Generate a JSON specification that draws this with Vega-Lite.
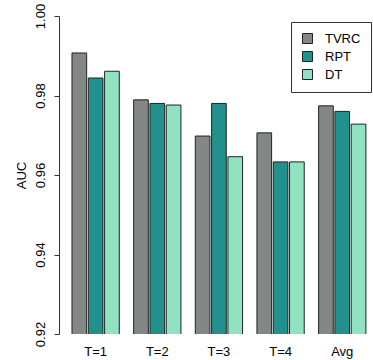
{
  "$schema": "https://vega.github.io/schema/vega-lite/v6.json",
  "autosize": {"type": "none"},
  "padding": {"left": 59, "top": 16, "right": 1, "bottom": 26},
  "width": 313,
  "height": 318,
  "background": "white",
  "config": {
    "font": "Liberation Sans",
    "view": {"stroke": null}
  },
  "data": {
    "values": [
      {"group": "T=1", "method": "TVRC", "auc": 0.9907},
      {"group": "T=1", "method": "RPT", "auc": 0.9844},
      {"group": "T=1", "method": "DT", "auc": 0.9861},
      {"group": "T=2", "method": "TVRC", "auc": 0.9789},
      {"group": "T=2", "method": "RPT", "auc": 0.9780},
      {"group": "T=2", "method": "DT", "auc": 0.9776},
      {"group": "T=3", "method": "TVRC", "auc": 0.9698},
      {"group": "T=3", "method": "RPT", "auc": 0.9780},
      {"group": "T=3", "method": "DT", "auc": 0.9646},
      {"group": "T=4", "method": "TVRC", "auc": 0.9706},
      {"group": "T=4", "method": "RPT", "auc": 0.9633},
      {"group": "T=4", "method": "DT", "auc": 0.9633},
      {"group": "Avg", "method": "TVRC", "auc": 0.9774},
      {"group": "Avg", "method": "RPT", "auc": 0.9760},
      {"group": "Avg", "method": "DT", "auc": 0.9728}
    ]
  },
  "mark": {"type": "bar", "stroke": "#222222", "strokeWidth": 1, "clip": true},
  "encoding": {
    "x": {
      "field": "group",
      "type": "nominal",
      "sort": ["T=1", "T=2", "T=3", "T=4", "Avg"],
      "scale": {"paddingInner": 0.233, "paddingOuter": 0.155, "align": 0.68},
      "axis": {
        "title": null,
        "domain": false,
        "ticks": false,
        "labelAngle": 0,
        "labelFontSize": 13,
        "labelColor": "#000000",
        "labelPadding": 11
      }
    },
    "xOffset": {
      "field": "method",
      "type": "nominal",
      "sort": ["TVRC", "RPT", "DT"],
      "scale": {"paddingInner": 0.1, "paddingOuter": 0}
    },
    "y": {
      "field": "auc",
      "type": "quantitative",
      "scale": {"domain": [0.92, 1.0], "zero": false, "nice": false},
      "axis": {
        "title": "AUC",
        "titleFontSize": 13,
        "titleFontWeight": "normal",
        "titleColor": "#000000",
        "titlePadding": 6,
        "values": [0.92, 0.94, 0.96, 0.98, 1.0],
        "format": ".2f",
        "labelAngle": 270,
        "labelAlign": "center",
        "labelBaseline": "bottom",
        "labelFontSize": 13,
        "labelColor": "#000000",
        "labelPadding": 7,
        "tickSize": 5,
        "tickColor": "#333333",
        "domainColor": "#333333",
        "grid": false
      }
    },
    "color": {
      "field": "method",
      "type": "nominal",
      "sort": ["TVRC", "RPT", "DT"],
      "scale": {
        "domain": ["TVRC", "RPT", "DT"],
        "range": ["#838785", "#22908c", "#90e3c0"]
      },
      "legend": {
        "title": null,
        "orient": "none",
        "legendX": 232,
        "legendY": 6,
        "strokeColor": "#333333",
        "padding": 10,
        "symbolType": "square",
        "symbolSize": 100,
        "symbolStrokeColor": "#222222",
        "symbolStrokeWidth": 1,
        "symbolOpacity": 1,
        "labelFontSize": 13,
        "labelColor": "#000000",
        "labelOffset": 11,
        "rowPadding": 3
      }
    }
  }
}
